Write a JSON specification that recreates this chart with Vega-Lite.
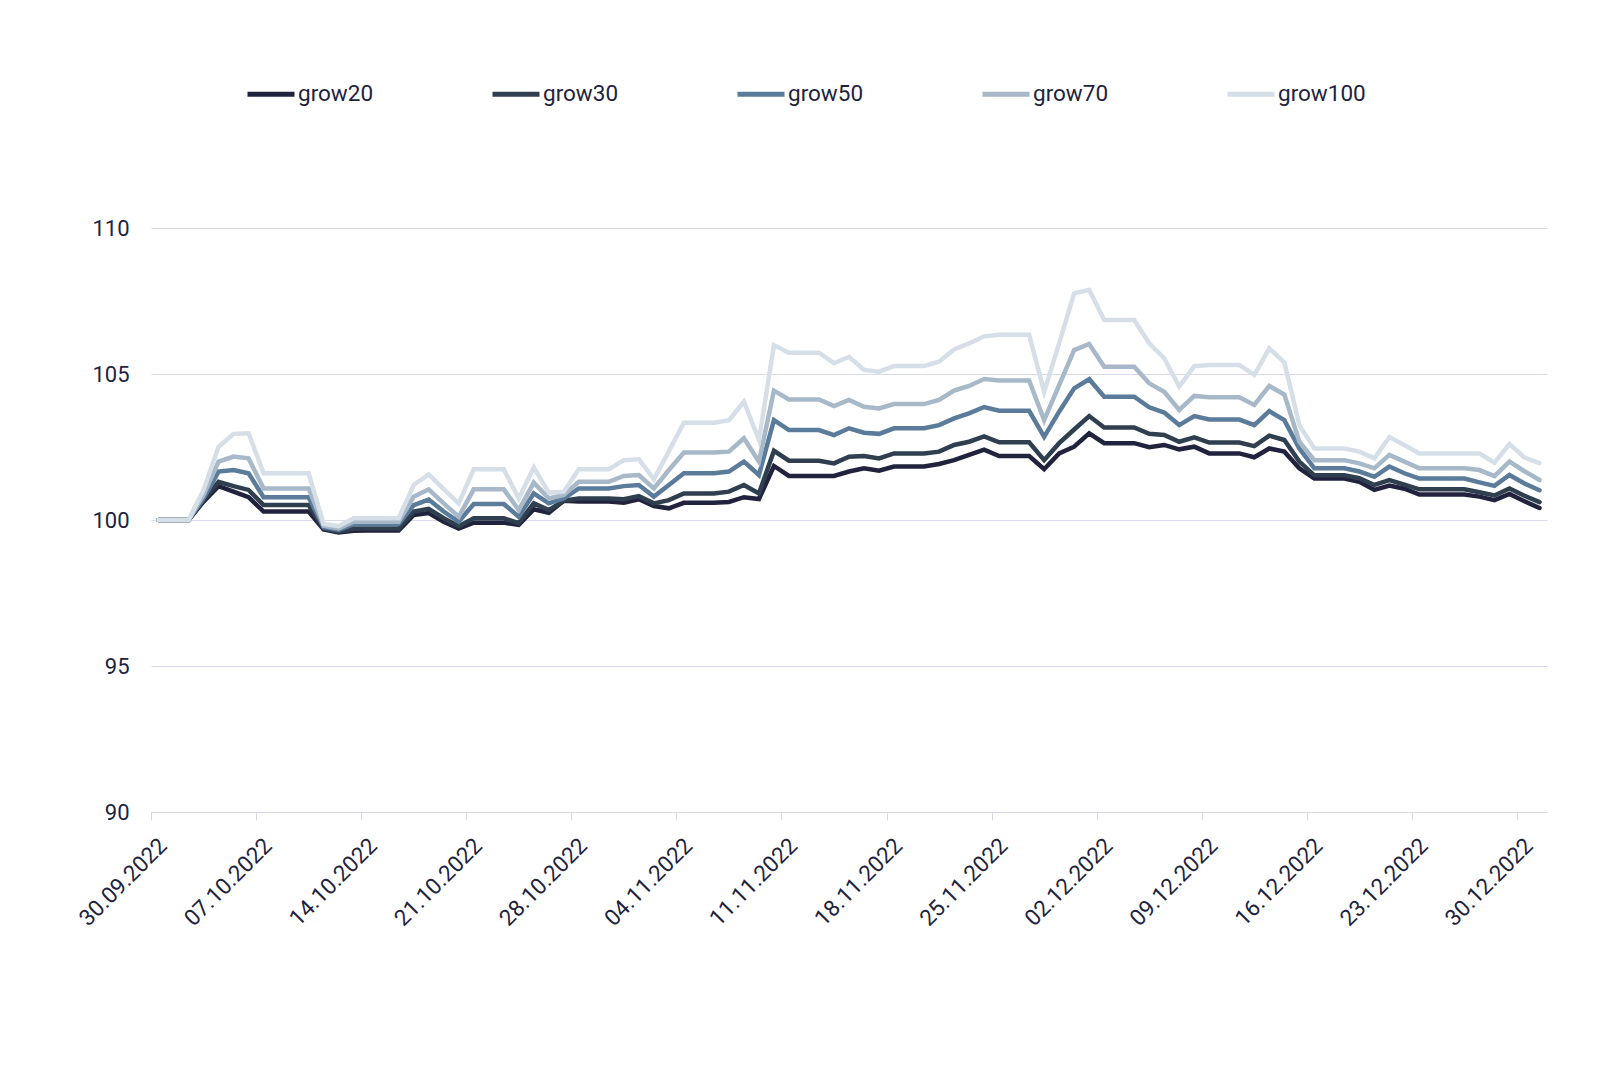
{
  "$schema": "https://vega.github.io/schema/vega-lite/v6.json",
  "width": 1396,
  "height": 584,
  "autosize": "none",
  "padding": {"left": 151, "top": 228, "right": 53, "bottom": 262},
  "background": "white",
  "data": {
    "values": [
      {"date": "2022-09-30T12:00", "series": "grow20", "value": 100}, {"date": "2022-09-30T12:00", "series": "grow30", "value": 100}, {"date": "2022-09-30T12:00", "series": "grow50", "value": 100}, {"date": "2022-09-30T12:00", "series": "grow70", "value": 100}, {"date": "2022-09-30T12:00", "series": "grow100", "value": 100},
      {"date": "2022-10-01T12:00", "series": "grow20", "value": 100}, {"date": "2022-10-01T12:00", "series": "grow30", "value": 100}, {"date": "2022-10-01T12:00", "series": "grow50", "value": 100}, {"date": "2022-10-01T12:00", "series": "grow70", "value": 100}, {"date": "2022-10-01T12:00", "series": "grow100", "value": 100},
      {"date": "2022-10-02T12:00", "series": "grow20", "value": 100}, {"date": "2022-10-02T12:00", "series": "grow30", "value": 100}, {"date": "2022-10-02T12:00", "series": "grow50", "value": 100}, {"date": "2022-10-02T12:00", "series": "grow70", "value": 100}, {"date": "2022-10-02T12:00", "series": "grow100", "value": 100},
      {"date": "2022-10-03T12:00", "series": "grow20", "value": 100.63}, {"date": "2022-10-03T12:00", "series": "grow30", "value": 100.68}, {"date": "2022-10-03T12:00", "series": "grow50", "value": 100.74}, {"date": "2022-10-03T12:00", "series": "grow70", "value": 100.86}, {"date": "2022-10-03T12:00", "series": "grow100", "value": 101.03},
      {"date": "2022-10-04T12:00", "series": "grow20", "value": 101.16}, {"date": "2022-10-04T12:00", "series": "grow30", "value": 101.31}, {"date": "2022-10-04T12:00", "series": "grow50", "value": 101.66}, {"date": "2022-10-04T12:00", "series": "grow70", "value": 102.0}, {"date": "2022-10-04T12:00", "series": "grow100", "value": 102.51},
      {"date": "2022-10-05T12:00", "series": "grow20", "value": 100.97}, {"date": "2022-10-05T12:00", "series": "grow30", "value": 101.16}, {"date": "2022-10-05T12:00", "series": "grow50", "value": 101.71}, {"date": "2022-10-05T12:00", "series": "grow70", "value": 102.17}, {"date": "2022-10-05T12:00", "series": "grow100", "value": 102.95},
      {"date": "2022-10-06T12:00", "series": "grow20", "value": 100.78}, {"date": "2022-10-06T12:00", "series": "grow30", "value": 101.03}, {"date": "2022-10-06T12:00", "series": "grow50", "value": 101.6}, {"date": "2022-10-06T12:00", "series": "grow70", "value": 102.11}, {"date": "2022-10-06T12:00", "series": "grow100", "value": 102.97},
      {"date": "2022-10-07T12:00", "series": "grow20", "value": 100.29}, {"date": "2022-10-07T12:00", "series": "grow30", "value": 100.51}, {"date": "2022-10-07T12:00", "series": "grow50", "value": 100.78}, {"date": "2022-10-07T12:00", "series": "grow70", "value": 101.08}, {"date": "2022-10-07T12:00", "series": "grow100", "value": 101.6},
      {"date": "2022-10-08T12:00", "series": "grow20", "value": 100.29}, {"date": "2022-10-08T12:00", "series": "grow30", "value": 100.51}, {"date": "2022-10-08T12:00", "series": "grow50", "value": 100.78}, {"date": "2022-10-08T12:00", "series": "grow70", "value": 101.08}, {"date": "2022-10-08T12:00", "series": "grow100", "value": 101.6},
      {"date": "2022-10-09T12:00", "series": "grow20", "value": 100.29}, {"date": "2022-10-09T12:00", "series": "grow30", "value": 100.51}, {"date": "2022-10-09T12:00", "series": "grow50", "value": 100.78}, {"date": "2022-10-09T12:00", "series": "grow70", "value": 101.08}, {"date": "2022-10-09T12:00", "series": "grow100", "value": 101.6},
      {"date": "2022-10-10T12:00", "series": "grow20", "value": 100.29}, {"date": "2022-10-10T12:00", "series": "grow30", "value": 100.51}, {"date": "2022-10-10T12:00", "series": "grow50", "value": 100.78}, {"date": "2022-10-10T12:00", "series": "grow70", "value": 101.08}, {"date": "2022-10-10T12:00", "series": "grow100", "value": 101.6},
      {"date": "2022-10-11T12:00", "series": "grow20", "value": 99.68}, {"date": "2022-10-11T12:00", "series": "grow30", "value": 99.71}, {"date": "2022-10-11T12:00", "series": "grow50", "value": 99.75}, {"date": "2022-10-11T12:00", "series": "grow70", "value": 99.8}, {"date": "2022-10-11T12:00", "series": "grow100", "value": 99.86},
      {"date": "2022-10-12T12:00", "series": "grow20", "value": 99.57}, {"date": "2022-10-12T12:00", "series": "grow30", "value": 99.6}, {"date": "2022-10-12T12:00", "series": "grow50", "value": 99.66}, {"date": "2022-10-12T12:00", "series": "grow70", "value": 99.71}, {"date": "2022-10-12T12:00", "series": "grow100", "value": 99.79},
      {"date": "2022-10-13T12:00", "series": "grow20", "value": 99.63}, {"date": "2022-10-13T12:00", "series": "grow30", "value": 99.71}, {"date": "2022-10-13T12:00", "series": "grow50", "value": 99.86}, {"date": "2022-10-13T12:00", "series": "grow70", "value": 99.94}, {"date": "2022-10-13T12:00", "series": "grow100", "value": 100.06},
      {"date": "2022-10-14T12:00", "series": "grow20", "value": 99.64}, {"date": "2022-10-14T12:00", "series": "grow30", "value": 99.71}, {"date": "2022-10-14T12:00", "series": "grow50", "value": 99.86}, {"date": "2022-10-14T12:00", "series": "grow70", "value": 99.94}, {"date": "2022-10-14T12:00", "series": "grow100", "value": 100.06},
      {"date": "2022-10-15T12:00", "series": "grow20", "value": 99.64}, {"date": "2022-10-15T12:00", "series": "grow30", "value": 99.71}, {"date": "2022-10-15T12:00", "series": "grow50", "value": 99.86}, {"date": "2022-10-15T12:00", "series": "grow70", "value": 99.94}, {"date": "2022-10-15T12:00", "series": "grow100", "value": 100.06},
      {"date": "2022-10-16T12:00", "series": "grow20", "value": 99.64}, {"date": "2022-10-16T12:00", "series": "grow30", "value": 99.71}, {"date": "2022-10-16T12:00", "series": "grow50", "value": 99.86}, {"date": "2022-10-16T12:00", "series": "grow70", "value": 99.94}, {"date": "2022-10-16T12:00", "series": "grow100", "value": 100.06},
      {"date": "2022-10-17T12:00", "series": "grow20", "value": 100.17}, {"date": "2022-10-17T12:00", "series": "grow30", "value": 100.29}, {"date": "2022-10-17T12:00", "series": "grow50", "value": 100.51}, {"date": "2022-10-17T12:00", "series": "grow70", "value": 100.8}, {"date": "2022-10-17T12:00", "series": "grow100", "value": 101.2},
      {"date": "2022-10-18T12:00", "series": "grow20", "value": 100.24}, {"date": "2022-10-18T12:00", "series": "grow30", "value": 100.38}, {"date": "2022-10-18T12:00", "series": "grow50", "value": 100.7}, {"date": "2022-10-18T12:00", "series": "grow70", "value": 101.05}, {"date": "2022-10-18T12:00", "series": "grow100", "value": 101.56},
      {"date": "2022-10-19T12:00", "series": "grow20", "value": 99.94}, {"date": "2022-10-19T12:00", "series": "grow30", "value": 100.06}, {"date": "2022-10-19T12:00", "series": "grow50", "value": 100.29}, {"date": "2022-10-19T12:00", "series": "grow70", "value": 100.57}, {"date": "2022-10-19T12:00", "series": "grow100", "value": 101.06},
      {"date": "2022-10-20T12:00", "series": "grow20", "value": 99.71}, {"date": "2022-10-20T12:00", "series": "grow30", "value": 99.79}, {"date": "2022-10-20T12:00", "series": "grow50", "value": 99.94}, {"date": "2022-10-20T12:00", "series": "grow70", "value": 100.11}, {"date": "2022-10-20T12:00", "series": "grow100", "value": 100.57},
      {"date": "2022-10-21T12:00", "series": "grow20", "value": 99.91}, {"date": "2022-10-21T12:00", "series": "grow30", "value": 100.06}, {"date": "2022-10-21T12:00", "series": "grow50", "value": 100.55}, {"date": "2022-10-21T12:00", "series": "grow70", "value": 101.05}, {"date": "2022-10-21T12:00", "series": "grow100", "value": 101.74},
      {"date": "2022-10-22T12:00", "series": "grow20", "value": 99.91}, {"date": "2022-10-22T12:00", "series": "grow30", "value": 100.06}, {"date": "2022-10-22T12:00", "series": "grow50", "value": 100.55}, {"date": "2022-10-22T12:00", "series": "grow70", "value": 101.05}, {"date": "2022-10-22T12:00", "series": "grow100", "value": 101.74},
      {"date": "2022-10-23T12:00", "series": "grow20", "value": 99.91}, {"date": "2022-10-23T12:00", "series": "grow30", "value": 100.06}, {"date": "2022-10-23T12:00", "series": "grow50", "value": 100.55}, {"date": "2022-10-23T12:00", "series": "grow70", "value": 101.05}, {"date": "2022-10-23T12:00", "series": "grow100", "value": 101.74},
      {"date": "2022-10-24T12:00", "series": "grow20", "value": 99.83}, {"date": "2022-10-24T12:00", "series": "grow30", "value": 99.89}, {"date": "2022-10-24T12:00", "series": "grow50", "value": 100.11}, {"date": "2022-10-24T12:00", "series": "grow70", "value": 100.34}, {"date": "2022-10-24T12:00", "series": "grow100", "value": 100.74},
      {"date": "2022-10-25T12:00", "series": "grow20", "value": 100.37}, {"date": "2022-10-25T12:00", "series": "grow30", "value": 100.57}, {"date": "2022-10-25T12:00", "series": "grow50", "value": 100.91}, {"date": "2022-10-25T12:00", "series": "grow70", "value": 101.28}, {"date": "2022-10-25T12:00", "series": "grow100", "value": 101.8},
      {"date": "2022-10-26T12:00", "series": "grow20", "value": 100.25}, {"date": "2022-10-26T12:00", "series": "grow30", "value": 100.34}, {"date": "2022-10-26T12:00", "series": "grow50", "value": 100.57}, {"date": "2022-10-26T12:00", "series": "grow70", "value": 100.74}, {"date": "2022-10-26T12:00", "series": "grow100", "value": 100.94},
      {"date": "2022-10-27T12:00", "series": "grow20", "value": 100.66}, {"date": "2022-10-27T12:00", "series": "grow30", "value": 100.66}, {"date": "2022-10-27T12:00", "series": "grow50", "value": 100.74}, {"date": "2022-10-27T12:00", "series": "grow70", "value": 100.86}, {"date": "2022-10-27T12:00", "series": "grow100", "value": 100.97},
      {"date": "2022-10-28T12:00", "series": "grow20", "value": 100.63}, {"date": "2022-10-28T12:00", "series": "grow30", "value": 100.74}, {"date": "2022-10-28T12:00", "series": "grow50", "value": 101.08}, {"date": "2022-10-28T12:00", "series": "grow70", "value": 101.31}, {"date": "2022-10-28T12:00", "series": "grow100", "value": 101.74},
      {"date": "2022-10-29T12:00", "series": "grow20", "value": 100.63}, {"date": "2022-10-29T12:00", "series": "grow30", "value": 100.74}, {"date": "2022-10-29T12:00", "series": "grow50", "value": 101.08}, {"date": "2022-10-29T12:00", "series": "grow70", "value": 101.31}, {"date": "2022-10-29T12:00", "series": "grow100", "value": 101.74},
      {"date": "2022-10-30T12:00", "series": "grow20", "value": 100.63}, {"date": "2022-10-30T12:00", "series": "grow30", "value": 100.74}, {"date": "2022-10-30T12:00", "series": "grow50", "value": 101.08}, {"date": "2022-10-30T12:00", "series": "grow70", "value": 101.31}, {"date": "2022-10-30T12:00", "series": "grow100", "value": 101.74},
      {"date": "2022-10-31T12:00", "series": "grow20", "value": 100.59}, {"date": "2022-10-31T12:00", "series": "grow30", "value": 100.71}, {"date": "2022-10-31T12:00", "series": "grow50", "value": 101.16}, {"date": "2022-10-31T12:00", "series": "grow70", "value": 101.51}, {"date": "2022-10-31T12:00", "series": "grow100", "value": 102.05},
      {"date": "2022-11-01T12:00", "series": "grow20", "value": 100.71}, {"date": "2022-11-01T12:00", "series": "grow30", "value": 100.82}, {"date": "2022-11-01T12:00", "series": "grow50", "value": 101.2}, {"date": "2022-11-01T12:00", "series": "grow70", "value": 101.54}, {"date": "2022-11-01T12:00", "series": "grow100", "value": 102.08},
      {"date": "2022-11-02T12:00", "series": "grow20", "value": 100.48}, {"date": "2022-11-02T12:00", "series": "grow30", "value": 100.57}, {"date": "2022-11-02T12:00", "series": "grow50", "value": 100.8}, {"date": "2022-11-02T12:00", "series": "grow70", "value": 101.08}, {"date": "2022-11-02T12:00", "series": "grow100", "value": 101.39},
      {"date": "2022-11-03T12:00", "series": "grow20", "value": 100.4}, {"date": "2022-11-03T12:00", "series": "grow30", "value": 100.68}, {"date": "2022-11-03T12:00", "series": "grow50", "value": 101.2}, {"date": "2022-11-03T12:00", "series": "grow70", "value": 101.71}, {"date": "2022-11-03T12:00", "series": "grow100", "value": 102.36},
      {"date": "2022-11-04T12:00", "series": "grow20", "value": 100.59}, {"date": "2022-11-04T12:00", "series": "grow30", "value": 100.91}, {"date": "2022-11-04T12:00", "series": "grow50", "value": 101.6}, {"date": "2022-11-04T12:00", "series": "grow70", "value": 102.31}, {"date": "2022-11-04T12:00", "series": "grow100", "value": 103.33},
      {"date": "2022-11-05T12:00", "series": "grow20", "value": 100.59}, {"date": "2022-11-05T12:00", "series": "grow30", "value": 100.91}, {"date": "2022-11-05T12:00", "series": "grow50", "value": 101.6}, {"date": "2022-11-05T12:00", "series": "grow70", "value": 102.31}, {"date": "2022-11-05T12:00", "series": "grow100", "value": 103.33},
      {"date": "2022-11-06T12:00", "series": "grow20", "value": 100.59}, {"date": "2022-11-06T12:00", "series": "grow30", "value": 100.91}, {"date": "2022-11-06T12:00", "series": "grow50", "value": 101.6}, {"date": "2022-11-06T12:00", "series": "grow70", "value": 102.31}, {"date": "2022-11-06T12:00", "series": "grow100", "value": 103.33},
      {"date": "2022-11-07T12:00", "series": "grow20", "value": 100.62}, {"date": "2022-11-07T12:00", "series": "grow30", "value": 100.97}, {"date": "2022-11-07T12:00", "series": "grow50", "value": 101.66}, {"date": "2022-11-07T12:00", "series": "grow70", "value": 102.34}, {"date": "2022-11-07T12:00", "series": "grow100", "value": 103.42},
      {"date": "2022-11-08T12:00", "series": "grow20", "value": 100.78}, {"date": "2022-11-08T12:00", "series": "grow30", "value": 101.2}, {"date": "2022-11-08T12:00", "series": "grow50", "value": 102.0}, {"date": "2022-11-08T12:00", "series": "grow70", "value": 102.8}, {"date": "2022-11-08T12:00", "series": "grow100", "value": 104.05},
      {"date": "2022-11-09T12:00", "series": "grow20", "value": 100.72}, {"date": "2022-11-09T12:00", "series": "grow30", "value": 100.91}, {"date": "2022-11-09T12:00", "series": "grow50", "value": 101.54}, {"date": "2022-11-09T12:00", "series": "grow70", "value": 102.0}, {"date": "2022-11-09T12:00", "series": "grow100", "value": 102.74},
      {"date": "2022-11-10T12:00", "series": "grow20", "value": 101.85}, {"date": "2022-11-10T12:00", "series": "grow30", "value": 102.37}, {"date": "2022-11-10T12:00", "series": "grow50", "value": 103.42}, {"date": "2022-11-10T12:00", "series": "grow70", "value": 104.43}, {"date": "2022-11-10T12:00", "series": "grow100", "value": 105.99},
      {"date": "2022-11-11T12:00", "series": "grow20", "value": 101.51}, {"date": "2022-11-11T12:00", "series": "grow30", "value": 102.03}, {"date": "2022-11-11T12:00", "series": "grow50", "value": 103.08}, {"date": "2022-11-11T12:00", "series": "grow70", "value": 104.13}, {"date": "2022-11-11T12:00", "series": "grow100", "value": 105.73},
      {"date": "2022-11-12T12:00", "series": "grow20", "value": 101.51}, {"date": "2022-11-12T12:00", "series": "grow30", "value": 102.03}, {"date": "2022-11-12T12:00", "series": "grow50", "value": 103.08}, {"date": "2022-11-12T12:00", "series": "grow70", "value": 104.13}, {"date": "2022-11-12T12:00", "series": "grow100", "value": 105.73},
      {"date": "2022-11-13T12:00", "series": "grow20", "value": 101.51}, {"date": "2022-11-13T12:00", "series": "grow30", "value": 102.03}, {"date": "2022-11-13T12:00", "series": "grow50", "value": 103.08}, {"date": "2022-11-13T12:00", "series": "grow70", "value": 104.13}, {"date": "2022-11-13T12:00", "series": "grow100", "value": 105.73},
      {"date": "2022-11-14T12:00", "series": "grow20", "value": 101.51}, {"date": "2022-11-14T12:00", "series": "grow30", "value": 101.94}, {"date": "2022-11-14T12:00", "series": "grow50", "value": 102.91}, {"date": "2022-11-14T12:00", "series": "grow70", "value": 103.9}, {"date": "2022-11-14T12:00", "series": "grow100", "value": 105.37},
      {"date": "2022-11-15T12:00", "series": "grow20", "value": 101.66}, {"date": "2022-11-15T12:00", "series": "grow30", "value": 102.17}, {"date": "2022-11-15T12:00", "series": "grow50", "value": 103.14}, {"date": "2022-11-15T12:00", "series": "grow70", "value": 104.11}, {"date": "2022-11-15T12:00", "series": "grow100", "value": 105.59},
      {"date": "2022-11-16T12:00", "series": "grow20", "value": 101.77}, {"date": "2022-11-16T12:00", "series": "grow30", "value": 102.19}, {"date": "2022-11-16T12:00", "series": "grow50", "value": 102.99}, {"date": "2022-11-16T12:00", "series": "grow70", "value": 103.88}, {"date": "2022-11-16T12:00", "series": "grow100", "value": 105.14},
      {"date": "2022-11-17T12:00", "series": "grow20", "value": 101.69}, {"date": "2022-11-17T12:00", "series": "grow30", "value": 102.11}, {"date": "2022-11-17T12:00", "series": "grow50", "value": 102.95}, {"date": "2022-11-17T12:00", "series": "grow70", "value": 103.82}, {"date": "2022-11-17T12:00", "series": "grow100", "value": 105.08},
      {"date": "2022-11-18T12:00", "series": "grow20", "value": 101.83}, {"date": "2022-11-18T12:00", "series": "grow30", "value": 102.28}, {"date": "2022-11-18T12:00", "series": "grow50", "value": 103.14}, {"date": "2022-11-18T12:00", "series": "grow70", "value": 103.97}, {"date": "2022-11-18T12:00", "series": "grow100", "value": 105.27},
      {"date": "2022-11-19T12:00", "series": "grow20", "value": 101.83}, {"date": "2022-11-19T12:00", "series": "grow30", "value": 102.28}, {"date": "2022-11-19T12:00", "series": "grow50", "value": 103.14}, {"date": "2022-11-19T12:00", "series": "grow70", "value": 103.97}, {"date": "2022-11-19T12:00", "series": "grow100", "value": 105.27},
      {"date": "2022-11-20T12:00", "series": "grow20", "value": 101.83}, {"date": "2022-11-20T12:00", "series": "grow30", "value": 102.28}, {"date": "2022-11-20T12:00", "series": "grow50", "value": 103.14}, {"date": "2022-11-20T12:00", "series": "grow70", "value": 103.97}, {"date": "2022-11-20T12:00", "series": "grow100", "value": 105.27},
      {"date": "2022-11-21T12:00", "series": "grow20", "value": 101.92}, {"date": "2022-11-21T12:00", "series": "grow30", "value": 102.34}, {"date": "2022-11-21T12:00", "series": "grow50", "value": 103.25}, {"date": "2022-11-21T12:00", "series": "grow70", "value": 104.11}, {"date": "2022-11-21T12:00", "series": "grow100", "value": 105.42},
      {"date": "2022-11-22T12:00", "series": "grow20", "value": 102.05}, {"date": "2022-11-22T12:00", "series": "grow30", "value": 102.57}, {"date": "2022-11-22T12:00", "series": "grow50", "value": 103.48}, {"date": "2022-11-22T12:00", "series": "grow70", "value": 104.43}, {"date": "2022-11-22T12:00", "series": "grow100", "value": 105.84},
      {"date": "2022-11-23T12:00", "series": "grow20", "value": 102.23}, {"date": "2022-11-23T12:00", "series": "grow30", "value": 102.68}, {"date": "2022-11-23T12:00", "series": "grow50", "value": 103.65}, {"date": "2022-11-23T12:00", "series": "grow70", "value": 104.59}, {"date": "2022-11-23T12:00", "series": "grow100", "value": 106.05},
      {"date": "2022-11-24T12:00", "series": "grow20", "value": 102.41}, {"date": "2022-11-24T12:00", "series": "grow30", "value": 102.86}, {"date": "2022-11-24T12:00", "series": "grow50", "value": 103.87}, {"date": "2022-11-24T12:00", "series": "grow70", "value": 104.83}, {"date": "2022-11-24T12:00", "series": "grow100", "value": 106.29},
      {"date": "2022-11-25T12:00", "series": "grow20", "value": 102.19}, {"date": "2022-11-25T12:00", "series": "grow30", "value": 102.66}, {"date": "2022-11-25T12:00", "series": "grow50", "value": 103.74}, {"date": "2022-11-25T12:00", "series": "grow70", "value": 104.78}, {"date": "2022-11-25T12:00", "series": "grow100", "value": 106.34},
      {"date": "2022-11-26T12:00", "series": "grow20", "value": 102.19}, {"date": "2022-11-26T12:00", "series": "grow30", "value": 102.66}, {"date": "2022-11-26T12:00", "series": "grow50", "value": 103.74}, {"date": "2022-11-26T12:00", "series": "grow70", "value": 104.78}, {"date": "2022-11-26T12:00", "series": "grow100", "value": 106.34},
      {"date": "2022-11-27T12:00", "series": "grow20", "value": 102.19}, {"date": "2022-11-27T12:00", "series": "grow30", "value": 102.66}, {"date": "2022-11-27T12:00", "series": "grow50", "value": 103.74}, {"date": "2022-11-27T12:00", "series": "grow70", "value": 104.78}, {"date": "2022-11-27T12:00", "series": "grow100", "value": 106.34},
      {"date": "2022-11-28T12:00", "series": "grow20", "value": 101.74}, {"date": "2022-11-28T12:00", "series": "grow30", "value": 102.05}, {"date": "2022-11-28T12:00", "series": "grow50", "value": 102.85}, {"date": "2022-11-28T12:00", "series": "grow70", "value": 103.42}, {"date": "2022-11-28T12:00", "series": "grow100", "value": 104.39},
      {"date": "2022-11-29T12:00", "series": "grow20", "value": 102.28}, {"date": "2022-11-29T12:00", "series": "grow30", "value": 102.63}, {"date": "2022-11-29T12:00", "series": "grow50", "value": 103.71}, {"date": "2022-11-29T12:00", "series": "grow70", "value": 104.62}, {"date": "2022-11-29T12:00", "series": "grow100", "value": 106.06},
      {"date": "2022-11-30T12:00", "series": "grow20", "value": 102.51}, {"date": "2022-11-30T12:00", "series": "grow30", "value": 103.1}, {"date": "2022-11-30T12:00", "series": "grow50", "value": 104.51}, {"date": "2022-11-30T12:00", "series": "grow70", "value": 105.82}, {"date": "2022-11-30T12:00", "series": "grow100", "value": 107.76},
      {"date": "2022-12-01T12:00", "series": "grow20", "value": 102.97}, {"date": "2022-12-01T12:00", "series": "grow30", "value": 103.56}, {"date": "2022-12-01T12:00", "series": "grow50", "value": 104.82}, {"date": "2022-12-01T12:00", "series": "grow70", "value": 106.03}, {"date": "2022-12-01T12:00", "series": "grow100", "value": 107.88},
      {"date": "2022-12-02T12:00", "series": "grow20", "value": 102.63}, {"date": "2022-12-02T12:00", "series": "grow30", "value": 103.17}, {"date": "2022-12-02T12:00", "series": "grow50", "value": 104.22}, {"date": "2022-12-02T12:00", "series": "grow70", "value": 105.25}, {"date": "2022-12-02T12:00", "series": "grow100", "value": 106.85},
      {"date": "2022-12-03T12:00", "series": "grow20", "value": 102.63}, {"date": "2022-12-03T12:00", "series": "grow30", "value": 103.17}, {"date": "2022-12-03T12:00", "series": "grow50", "value": 104.22}, {"date": "2022-12-03T12:00", "series": "grow70", "value": 105.25}, {"date": "2022-12-03T12:00", "series": "grow100", "value": 106.85},
      {"date": "2022-12-04T12:00", "series": "grow20", "value": 102.63}, {"date": "2022-12-04T12:00", "series": "grow30", "value": 103.17}, {"date": "2022-12-04T12:00", "series": "grow50", "value": 104.22}, {"date": "2022-12-04T12:00", "series": "grow70", "value": 105.25}, {"date": "2022-12-04T12:00", "series": "grow100", "value": 106.85},
      {"date": "2022-12-05T12:00", "series": "grow20", "value": 102.49}, {"date": "2022-12-05T12:00", "series": "grow30", "value": 102.95}, {"date": "2022-12-05T12:00", "series": "grow50", "value": 103.86}, {"date": "2022-12-05T12:00", "series": "grow70", "value": 104.68}, {"date": "2022-12-05T12:00", "series": "grow100", "value": 106.05},
      {"date": "2022-12-06T12:00", "series": "grow20", "value": 102.57}, {"date": "2022-12-06T12:00", "series": "grow30", "value": 102.91}, {"date": "2022-12-06T12:00", "series": "grow50", "value": 103.68}, {"date": "2022-12-06T12:00", "series": "grow70", "value": 104.39}, {"date": "2022-12-06T12:00", "series": "grow100", "value": 105.54},
      {"date": "2022-12-07T12:00", "series": "grow20", "value": 102.42}, {"date": "2022-12-07T12:00", "series": "grow30", "value": 102.68}, {"date": "2022-12-07T12:00", "series": "grow50", "value": 103.25}, {"date": "2022-12-07T12:00", "series": "grow70", "value": 103.77}, {"date": "2022-12-07T12:00", "series": "grow100", "value": 104.57},
      {"date": "2022-12-08T12:00", "series": "grow20", "value": 102.51}, {"date": "2022-12-08T12:00", "series": "grow30", "value": 102.83}, {"date": "2022-12-08T12:00", "series": "grow50", "value": 103.56}, {"date": "2022-12-08T12:00", "series": "grow70", "value": 104.25}, {"date": "2022-12-08T12:00", "series": "grow100", "value": 105.27},
      {"date": "2022-12-09T12:00", "series": "grow20", "value": 102.28}, {"date": "2022-12-09T12:00", "series": "grow30", "value": 102.65}, {"date": "2022-12-09T12:00", "series": "grow50", "value": 103.44}, {"date": "2022-12-09T12:00", "series": "grow70", "value": 104.2}, {"date": "2022-12-09T12:00", "series": "grow100", "value": 105.31},
      {"date": "2022-12-10T12:00", "series": "grow20", "value": 102.28}, {"date": "2022-12-10T12:00", "series": "grow30", "value": 102.65}, {"date": "2022-12-10T12:00", "series": "grow50", "value": 103.44}, {"date": "2022-12-10T12:00", "series": "grow70", "value": 104.2}, {"date": "2022-12-10T12:00", "series": "grow100", "value": 105.31},
      {"date": "2022-12-11T12:00", "series": "grow20", "value": 102.28}, {"date": "2022-12-11T12:00", "series": "grow30", "value": 102.65}, {"date": "2022-12-11T12:00", "series": "grow50", "value": 103.44}, {"date": "2022-12-11T12:00", "series": "grow70", "value": 104.2}, {"date": "2022-12-11T12:00", "series": "grow100", "value": 105.31},
      {"date": "2022-12-12T12:00", "series": "grow20", "value": 102.15}, {"date": "2022-12-12T12:00", "series": "grow30", "value": 102.53}, {"date": "2022-12-12T12:00", "series": "grow50", "value": 103.25}, {"date": "2022-12-12T12:00", "series": "grow70", "value": 103.94}, {"date": "2022-12-12T12:00", "series": "grow100", "value": 104.97},
      {"date": "2022-12-13T12:00", "series": "grow20", "value": 102.45}, {"date": "2022-12-13T12:00", "series": "grow30", "value": 102.89}, {"date": "2022-12-13T12:00", "series": "grow50", "value": 103.73}, {"date": "2022-12-13T12:00", "series": "grow70", "value": 104.59}, {"date": "2022-12-13T12:00", "series": "grow100", "value": 105.88},
      {"date": "2022-12-14T12:00", "series": "grow20", "value": 102.34}, {"date": "2022-12-14T12:00", "series": "grow30", "value": 102.74}, {"date": "2022-12-14T12:00", "series": "grow50", "value": 103.42}, {"date": "2022-12-14T12:00", "series": "grow70", "value": 104.3}, {"date": "2022-12-14T12:00", "series": "grow100", "value": 105.4},
      {"date": "2022-12-15T12:00", "series": "grow20", "value": 101.77}, {"date": "2022-12-15T12:00", "series": "grow30", "value": 102.0}, {"date": "2022-12-15T12:00", "series": "grow50", "value": 102.45}, {"date": "2022-12-15T12:00", "series": "grow70", "value": 102.68}, {"date": "2022-12-15T12:00", "series": "grow100", "value": 103.25},
      {"date": "2022-12-16T12:00", "series": "grow20", "value": 101.42}, {"date": "2022-12-16T12:00", "series": "grow30", "value": 101.53}, {"date": "2022-12-16T12:00", "series": "grow50", "value": 101.77}, {"date": "2022-12-16T12:00", "series": "grow70", "value": 102.05}, {"date": "2022-12-16T12:00", "series": "grow100", "value": 102.45},
      {"date": "2022-12-17T12:00", "series": "grow20", "value": 101.42}, {"date": "2022-12-17T12:00", "series": "grow30", "value": 101.53}, {"date": "2022-12-17T12:00", "series": "grow50", "value": 101.77}, {"date": "2022-12-17T12:00", "series": "grow70", "value": 102.05}, {"date": "2022-12-17T12:00", "series": "grow100", "value": 102.45},
      {"date": "2022-12-18T12:00", "series": "grow20", "value": 101.42}, {"date": "2022-12-18T12:00", "series": "grow30", "value": 101.53}, {"date": "2022-12-18T12:00", "series": "grow50", "value": 101.77}, {"date": "2022-12-18T12:00", "series": "grow70", "value": 102.05}, {"date": "2022-12-18T12:00", "series": "grow100", "value": 102.45},
      {"date": "2022-12-19T12:00", "series": "grow20", "value": 101.31}, {"date": "2022-12-19T12:00", "series": "grow30", "value": 101.43}, {"date": "2022-12-19T12:00", "series": "grow50", "value": 101.66}, {"date": "2022-12-19T12:00", "series": "grow70", "value": 101.94}, {"date": "2022-12-19T12:00", "series": "grow100", "value": 102.34},
      {"date": "2022-12-20T12:00", "series": "grow20", "value": 101.03}, {"date": "2022-12-20T12:00", "series": "grow30", "value": 101.2}, {"date": "2022-12-20T12:00", "series": "grow50", "value": 101.48}, {"date": "2022-12-20T12:00", "series": "grow70", "value": 101.77}, {"date": "2022-12-20T12:00", "series": "grow100", "value": 102.11},
      {"date": "2022-12-21T12:00", "series": "grow20", "value": 101.18}, {"date": "2022-12-21T12:00", "series": "grow30", "value": 101.37}, {"date": "2022-12-21T12:00", "series": "grow50", "value": 101.83}, {"date": "2022-12-21T12:00", "series": "grow70", "value": 102.23}, {"date": "2022-12-21T12:00", "series": "grow100", "value": 102.84},
      {"date": "2022-12-22T12:00", "series": "grow20", "value": 101.07}, {"date": "2022-12-22T12:00", "series": "grow30", "value": 101.21}, {"date": "2022-12-22T12:00", "series": "grow50", "value": 101.6}, {"date": "2022-12-22T12:00", "series": "grow70", "value": 102.0}, {"date": "2022-12-22T12:00", "series": "grow100", "value": 102.57},
      {"date": "2022-12-23T12:00", "series": "grow20", "value": 100.87}, {"date": "2022-12-23T12:00", "series": "grow30", "value": 101.05}, {"date": "2022-12-23T12:00", "series": "grow50", "value": 101.42}, {"date": "2022-12-23T12:00", "series": "grow70", "value": 101.77}, {"date": "2022-12-23T12:00", "series": "grow100", "value": 102.28},
      {"date": "2022-12-24T12:00", "series": "grow20", "value": 100.87}, {"date": "2022-12-24T12:00", "series": "grow30", "value": 101.05}, {"date": "2022-12-24T12:00", "series": "grow50", "value": 101.42}, {"date": "2022-12-24T12:00", "series": "grow70", "value": 101.77}, {"date": "2022-12-24T12:00", "series": "grow100", "value": 102.28},
      {"date": "2022-12-25T12:00", "series": "grow20", "value": 100.87}, {"date": "2022-12-25T12:00", "series": "grow30", "value": 101.05}, {"date": "2022-12-25T12:00", "series": "grow50", "value": 101.42}, {"date": "2022-12-25T12:00", "series": "grow70", "value": 101.77}, {"date": "2022-12-25T12:00", "series": "grow100", "value": 102.28},
      {"date": "2022-12-26T12:00", "series": "grow20", "value": 100.87}, {"date": "2022-12-26T12:00", "series": "grow30", "value": 101.05}, {"date": "2022-12-26T12:00", "series": "grow50", "value": 101.42}, {"date": "2022-12-26T12:00", "series": "grow70", "value": 101.77}, {"date": "2022-12-26T12:00", "series": "grow100", "value": 102.28},
      {"date": "2022-12-27T12:00", "series": "grow20", "value": 100.8}, {"date": "2022-12-27T12:00", "series": "grow30", "value": 100.95}, {"date": "2022-12-27T12:00", "series": "grow50", "value": 101.29}, {"date": "2022-12-27T12:00", "series": "grow70", "value": 101.71}, {"date": "2022-12-27T12:00", "series": "grow100", "value": 102.28},
      {"date": "2022-12-28T12:00", "series": "grow20", "value": 100.68}, {"date": "2022-12-28T12:00", "series": "grow30", "value": 100.84}, {"date": "2022-12-28T12:00", "series": "grow50", "value": 101.17}, {"date": "2022-12-28T12:00", "series": "grow70", "value": 101.5}, {"date": "2022-12-28T12:00", "series": "grow100", "value": 101.96},
      {"date": "2022-12-29T12:00", "series": "grow20", "value": 100.89}, {"date": "2022-12-29T12:00", "series": "grow30", "value": 101.08}, {"date": "2022-12-29T12:00", "series": "grow50", "value": 101.54}, {"date": "2022-12-29T12:00", "series": "grow70", "value": 102.0}, {"date": "2022-12-29T12:00", "series": "grow100", "value": 102.6},
      {"date": "2022-12-30T12:00", "series": "grow20", "value": 100.64}, {"date": "2022-12-30T12:00", "series": "grow30", "value": 100.83}, {"date": "2022-12-30T12:00", "series": "grow50", "value": 101.25}, {"date": "2022-12-30T12:00", "series": "grow70", "value": 101.67}, {"date": "2022-12-30T12:00", "series": "grow100", "value": 102.14},
      {"date": "2022-12-31T12:00", "series": "grow20", "value": 100.41}, {"date": "2022-12-31T12:00", "series": "grow30", "value": 100.61}, {"date": "2022-12-31T12:00", "series": "grow50", "value": 101.02}, {"date": "2022-12-31T12:00", "series": "grow70", "value": 101.37}, {"date": "2022-12-31T12:00", "series": "grow100", "value": 101.95}
    ]
  },
  "mark": {"type": "line", "strokeWidth": 4.5, "strokeCap": "round"},
  "encoding": {
    "x": {
      "field": "date",
      "type": "temporal",
      "scale": {
        "domain": [
          {"year": 2022, "month": 9, "date": 30},
          {"year": 2023, "month": 1, "date": 1}
        ]
      },
      "axis": {
        "title": null,
        "grid": false,
        "format": "%d.%m.%Y",
        "values": [
          {"year": 2022, "month": 9, "date": 30},
          {"year": 2022, "month": 10, "date": 7},
          {"year": 2022, "month": 10, "date": 14},
          {"year": 2022, "month": 10, "date": 21},
          {"year": 2022, "month": 10, "date": 28},
          {"year": 2022, "month": 11, "date": 4},
          {"year": 2022, "month": 11, "date": 11},
          {"year": 2022, "month": 11, "date": 18},
          {"year": 2022, "month": 11, "date": 25},
          {"year": 2022, "month": 12, "date": 2},
          {"year": 2022, "month": 12, "date": 9},
          {"year": 2022, "month": 12, "date": 16},
          {"year": 2022, "month": 12, "date": 23},
          {"year": 2022, "month": 12, "date": 30}
        ],
        "labelAngle": -45,
        "labelAlign": "right",
        "labelBaseline": "top",
        "labelOffset": 4,
        "labelPadding": 14,
        "labelFontSize": 22.5,
        "tickSize": 8,
        "domainColor": "#d9d9ee",
        "tickColor": "#d9d9ee",
        "labelOverlap": false
      }
    },
    "y": {
      "field": "value",
      "type": "quantitative",
      "scale": {"domain": [90, 110], "nice": false, "zero": false},
      "axis": {
        "title": null,
        "values": [90, 95, 100, 105, 110],
        "domain": false,
        "ticks": false,
        "labelPadding": 22,
        "gridColor": "#d9d9ee",
        "gridWidth": 1
      }
    },
    "color": {
      "field": "series",
      "type": "nominal",
      "sort": ["grow20", "grow30", "grow50", "grow70", "grow100"],
      "scale": {
        "domain": ["grow20", "grow30", "grow50", "grow70", "grow100"],
        "range": ["#21233e", "#2f3f4f", "#5b7b9a", "#a7b8c9", "#d6dfe7"]
      },
      "legend": {
        "title": null,
        "orient": "none",
        "legendX": 94,
        "legendY": -160,
        "direction": "horizontal",
        "columns": 5,
        "gridAlign": "all",
        "columnPadding": 96,
        "padding": 0,
        "symbolType": "stroke",
        "symbolSize": 2209,
        "symbolStrokeWidth": 5,
        "labelOffset": 1,
        "labelFontSize": 22.5,
        "labelColor": "#21233e",
        "labelFont": "Roboto"
      }
    }
  },
  "config": {
    "view": {"stroke": null},
    "font": "Roboto",
    "axis": {
      "labelFont": "Roboto",
      "labelFontSize": 22,
      "labelColor": "#21233e"
    }
  }
}
